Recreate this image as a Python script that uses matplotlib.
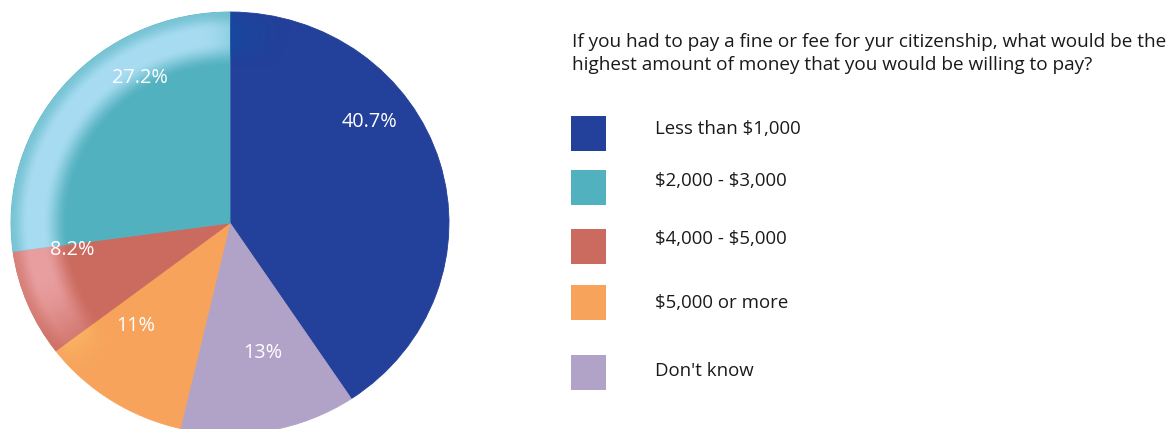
import numpy as np
import matplotlib
matplotlib.use("Agg")
import matplotlib.pyplot as plt
from matplotlib.patches import Rectangle
from matplotlib.colors import to_rgb

# Survey answers (legend order) and their shares in percent
categories = ["Less than $1,000", "$2,000 - $3,000", "$4,000 - $5,000",
              "$5,000 or more", "Don't know"]
shares = [40.7, 27.2, 8.2, 11, 13]
colors = ["#23409A", "#52B1BF", "#CB6A5E", "#F7A35B", "#B1A2C7"]
question = ["If you had to pay a fine or fee for yur citizenship, what would be the",
            "highest amount of money that you would be willing to pay?"]

# slices run clockwise from 12 o'clock in this order
pie_order = [0, 4, 3, 2, 1]

W, H = 1170, 429
plt.rcParams['font.family'] = ['Open Sans', 'DejaVu Sans']
fig = plt.figure(figsize=(W / 100, H / 100), dpi=100)


def px_axes(x0, y0, x1, y1):
    """Axes placed by pixel box, origin at the top-left corner."""
    return fig.add_axes([x0 / W, 1 - y1 / H, (x1 - x0) / W, (y1 - y0) / H])


# ---- pie -------------------------------------------------------------------
pax = px_axes(11, 12, 449, 434)
vals = [shares[i] for i in pie_order]
cols = [colors[i] for i in pie_order]
wedges, _ = pax.pie(vals, colors=cols, startangle=90, counterclock=False,
                    radius=1, wedgeprops=dict(linewidth=0.6))
for w, c in zip(wedges, cols):
    w.set_edgecolor(c)

# glossy rim highlight, strongest on the upper-left side
n = 700
g = np.linspace(-1, 1, n)
X, Y = np.meshgrid(g, g)
R = np.hypot(X, Y)
T = np.degrees(np.arctan2(Y, X)) % 360


def smooth(e0, e1, x):
    t = np.clip((x - e0) / (e1 - e0), 0, 1)
    return t * t * (3 - 2 * t)


ring = smooth(0.74, 0.86, R) * (1 - 0.55 * smooth(0.92, 1.0, R))
ang = smooth(72, 100, T) * (1 - smooth(196, 230, T))
alpha = ring * ang

tints = {0: ("#0E4FA3", 0.75), 1: ("#B0E0F6", 0.92),
         2: ("#EEA8AB", 0.85), 3: ("#FFD47A", 0.95)}
for idx, w in zip(pie_order, wedges):
    if idx not in tints:
        continue
    tint, strength = tints[idx]
    rgba = np.zeros((n, n, 4))
    rgba[..., :3] = to_rgb(tint)
    rgba[..., 3] = alpha * strength
    im = pax.imshow(rgba, extent=(-1, 1, -1, 1), origin='lower',
                    interpolation='bilinear', zorder=w.get_zorder() + 0.1)
    im.set_clip_path(w)

# percentage labels
label_pos = {0: (0.635, 0.479), 1: (-0.411, 0.687), 2: (-0.721, -0.128),
             3: (-0.429, -0.488), 4: (0.151, -0.616)}
for i, (x, y) in label_pos.items():
    pax.text(x, y, f"{shares[i]:g}%", color="white", fontsize=14.3,
             ha="center", va="center", zorder=10)

pax.set_aspect('auto')
pax.set_xlim(-1, 1)
pax.set_ylim(-1, 1)
pax.axis('off')

# ---- question and legend ---------------------------------------------------
oax = fig.add_axes([0, 0, 1, 1])
oax.set_xlim(0, W)
oax.set_ylim(H, 0)
oax.axis('off')

for line, yb in zip(question, [47, 70]):
    oax.text(572, yb, line, fontsize=13.7, color="#1a1a1a", va="baseline",
             ha="left", parse_math=False)

box_tops = [116, 170, 229, 285, 355]
text_base = [134, 186, 244, 308, 376]
for cat, col, yt, yb in zip(categories, colors, box_tops, text_base):
    oax.add_patch(Rectangle((571, yt), 35, 35, facecolor=col, edgecolor="none"))
    oax.text(655, yb, cat, fontsize=13.4, color="#1a1a1a", va="baseline",
             ha="left", parse_math=False)

fig.savefig("out.png", dpi=100)
